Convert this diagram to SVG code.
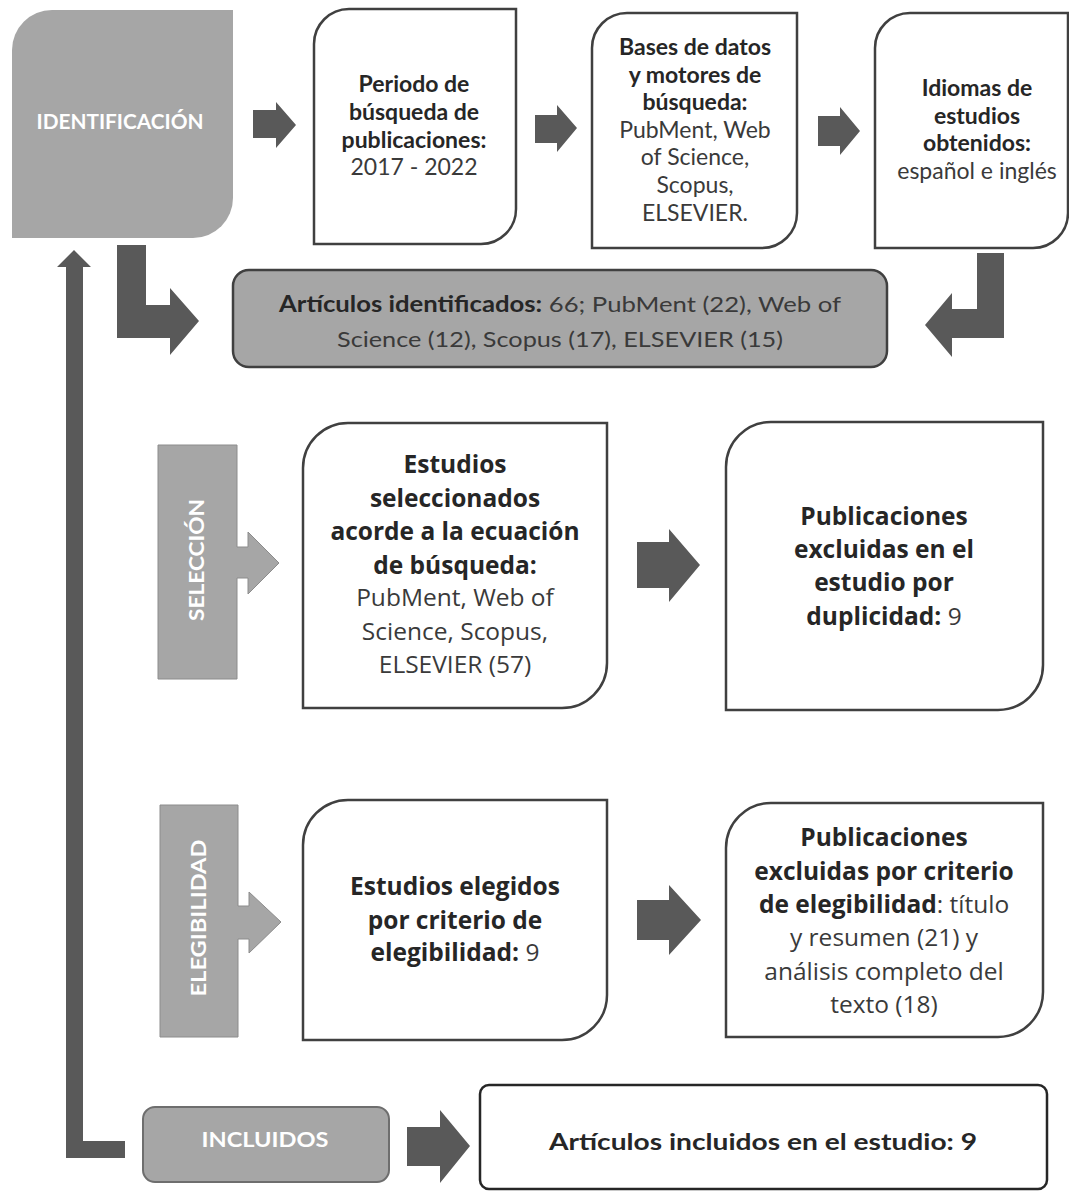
<svg xmlns="http://www.w3.org/2000/svg" width="1069" height="1193" viewBox="0 0 1069 1193">
<style>
.bg{fill:#ffffff}
.gray{fill:#a6a6a6}
.wbox{fill:#ffffff;stroke:#404040;stroke-width:2.5}
.arrow{fill:#595959}
.t{font-family:Lato,"Open Sans","Liberation Sans",sans-serif;text-anchor:middle;fill:#262626}
.m{font-family:"Open Sans",Lato,"Liberation Sans",sans-serif;text-anchor:middle;fill:#262626;font-size:24.5px}
.s23{font-size:23px}
.b{font-weight:bold}
.n{font-weight:normal;fill:#3a3a3a}
.wt{font-family:Lato,"Open Sans","Liberation Sans",sans-serif;font-weight:bold;fill:#ffffff;text-anchor:middle;font-size:20px}
</style>
<rect class="bg" x="0" y="0" width="1069" height="1193"/>

<g id="connectors">
  <path class="arrow" d="M253,110 H276 V102 L296,125 L276,148 V138 H253 Z"/>
  <path class="arrow" d="M535,115 H557 V105 L577,128 L557,152 V143 H535 Z"/>
  <path class="arrow" d="M818,116 H840 V107 L860,131 L840,155 V146 H818 Z"/>
  <path class="arrow" d="M117,245 H146 V305 H170 V288 L199,321 L170,355 V338 H117 Z"/>
  <path class="arrow" d="M977,253 H1004 V338 H952 V357 L925,325 L952,293 V309 H977 Z"/>
  <path class="arrow" d="M637,542 H669 V529 L700,565 L669,602 V588 H637 Z"/>
  <path class="arrow" d="M637,900 H669 V885 L701,920 L669,955 V940 H637 Z"/>
  <path class="arrow" d="M407,1127 H440 V1110 L470,1146 L440,1183 V1166 H407 Z"/>
  <path class="arrow" d="M66,1158 V267 H57 L74,250 L91,267 H83 V1141 H125 V1158 Z"/>
</g>

<g id="identificacion">
  <path class="gray" d="M12,50 A40,40 0 0 1 52,10 H233 V198 A40,40 0 0 1 193,238 H12 Z"/>
  <text class="wt" x="120" y="129" textLength="167" lengthAdjust="spacingAndGlyphs">IDENTIFICACIÓN</text>
</g>

<g id="periodo">
  <path class="wbox" d="M314,44 A35,35 0 0 1 349,9 H516 V209 A35,35 0 0 1 481,244 H314 Z"/>
  <text class="t s23 b" x="414" y="92">Periodo de</text>
  <text class="t s23 b" x="414" y="120">búsqueda de</text>
  <text class="t s23 b" x="414" y="148">publicaciones:</text>
  <text class="t s23 n" x="414" y="175">2017 - 2022</text>
</g>

<g id="bases">
  <path class="wbox" d="M592,48 A35,35 0 0 1 627,13 H797 V213 A35,35 0 0 1 762,248 H592 Z"/>
  <text class="t s23 b" x="695" y="55">Bases de datos</text>
  <text class="t s23 b" x="695" y="83">y motores de</text>
  <text class="t s23 b" x="695" y="110">búsqueda:</text>
  <text class="t s23 n" x="695" y="138">PubMent, Web</text>
  <text class="t s23 n" x="695" y="165">of Science,</text>
  <text class="t s23 n" x="695" y="193">Scopus,</text>
  <text class="t s23 n" x="695" y="221">ELSEVIER.</text>
</g>

<g id="idiomas">
  <path class="wbox" d="M875,48 A35,35 0 0 1 910,13 H1068 V213 A35,35 0 0 1 1033,248 H875 Z"/>
  <text class="t s23 b" x="977" y="96">Idiomas de</text>
  <text class="t s23 b" x="977" y="124">estudios</text>
  <text class="t s23 b" x="977" y="151">obtenidos:</text>
  <text class="t s23 n" x="977" y="179">español e inglés</text>
</g>

<g id="identificados">
  <rect x="233" y="270" width="654" height="97" rx="16" ry="16" fill="#a6a6a6" stroke="#404040" stroke-width="2.5"/>
  <text class="t" font-size="22" x="560" y="312" textLength="562" lengthAdjust="spacingAndGlyphs"><tspan class="b">Artículos identificados:</tspan><tspan class="n" fill="#262626"> 66; PubMent (22), Web of</tspan></text>
  <text class="t n" font-size="22" x="560" y="347" textLength="446" lengthAdjust="spacingAndGlyphs" fill="#262626">Science (12), Scopus (17), ELSEVIER (15)</text>
</g>

<g id="seleccion">
  <path class="gray" stroke="#8c8c8c" stroke-width="1" d="M158,445 H237 V547 H248 V532 L279,563 L248,594 V578 H237 V679 H158 Z"/>
  <text class="wt" transform="translate(204,560) rotate(-90)" x="0" y="0" textLength="122" lengthAdjust="spacingAndGlyphs">SELECCIÓN</text>
</g>

<g id="seleccionados">
  <path class="wbox" d="M303,468 A45,45 0 0 1 348,423 H607 V663 A45,45 0 0 1 562,708 H303 Z"/>
  <text class="m b" x="455" y="473">Estudios</text>
  <text class="m b" x="455" y="507">seleccionados</text>
  <text class="m b" x="455" y="540">acorde a la ecuación</text>
  <text class="m b" x="455" y="574">de búsqueda:</text>
  <text class="m n" x="455" y="606">PubMent, Web of</text>
  <text class="m n" x="455" y="640">Science, Scopus,</text>
  <text class="m n" x="455" y="673">ELSEVIER (57)</text>
</g>

<g id="excluidas-duplicidad">
  <path class="wbox" d="M726,467 A45,45 0 0 1 771,422 H1043 V665 A45,45 0 0 1 998,710 H726 Z"/>
  <text class="m b" x="884" y="525">Publicaciones</text>
  <text class="m b" x="884" y="558">excluidas en el</text>
  <text class="m b" x="884" y="591">estudio por</text>
  <text class="m" x="884" y="625"><tspan class="b">duplicidad:</tspan><tspan class="n"> 9</tspan></text>
</g>

<g id="elegibilidad">
  <path class="gray" stroke="#8c8c8c" stroke-width="1" d="M160,805 H238 V906 H249 V892 L281,922 L249,953 V939 H238 V1037 H160 Z"/>
  <text class="wt" transform="translate(206,918) rotate(-90)" x="0" y="0" textLength="157" lengthAdjust="spacingAndGlyphs">ELEGIBILIDAD</text>
</g>

<g id="elegidos">
  <path class="wbox" d="M303,845 A45,45 0 0 1 348,800 H607 V995 A45,45 0 0 1 562,1040 H303 Z"/>
  <text class="m b" x="455" y="895">Estudios elegidos</text>
  <text class="m b" x="455" y="929">por criterio de</text>
  <text class="m" x="455" y="961"><tspan class="b">elegibilidad:</tspan><tspan class="n"> 9</tspan></text>
</g>

<g id="excluidas-criterio">
  <path class="wbox" d="M726,848 A45,45 0 0 1 771,803 H1043 V992 A45,45 0 0 1 998,1037 H726 Z"/>
  <text class="m b" x="884" y="846">Publicaciones</text>
  <text class="m b" x="884" y="880">excluidas por criterio</text>
  <text class="m" x="884" y="913"><tspan class="b">de elegibilidad</tspan><tspan class="n">: título</tspan></text>
  <text class="m n" x="884" y="946">y resumen (21) y</text>
  <text class="m n" x="884" y="980">análisis completo del</text>
  <text class="m n" x="884" y="1013">texto (18)</text>
</g>

<g id="incluidos">
  <rect x="143" y="1107" width="246" height="75" rx="12" ry="12" fill="#a6a6a6" stroke="#6e6e6e" stroke-width="2"/>
  <text class="wt" x="265" y="1147" textLength="127" lengthAdjust="spacingAndGlyphs">INCLUIDOS</text>
</g>

<g id="incluidos-estudio">
  <rect x="480" y="1085" width="567" height="104" rx="9" ry="9" fill="#ffffff" stroke="#262626" stroke-width="2.5"/>
  <text class="t b" font-size="23" x="763" y="1150" textLength="428" lengthAdjust="spacingAndGlyphs">Artículos incluidos en el estudio: 9</text>
</g>
</svg>
